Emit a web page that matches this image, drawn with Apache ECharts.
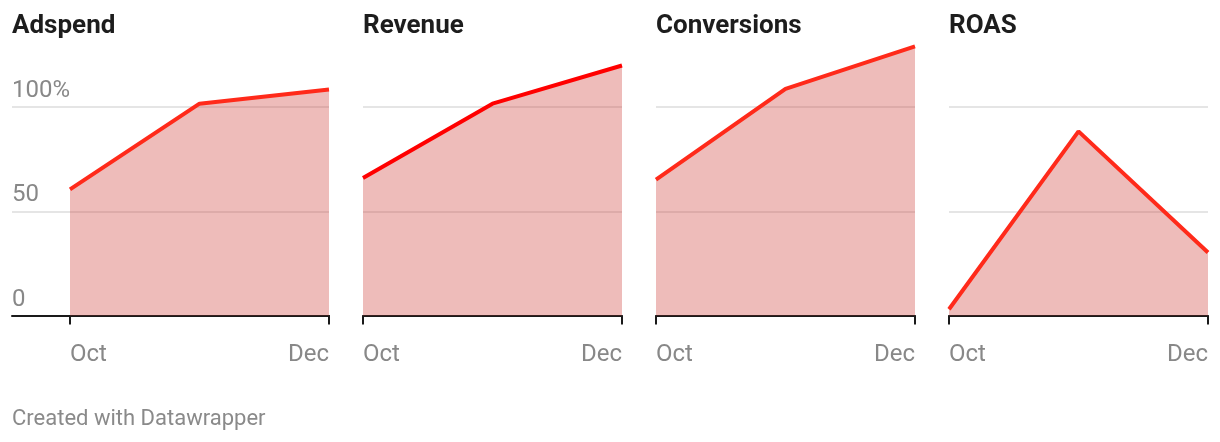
<!DOCTYPE html>
<html>
<head>
<meta charset="utf-8">
<script src="https://cdn.jsdelivr.net/npm/echarts@6/dist/echarts.min.js"></script>
<style>
html,body{margin:0;padding:0;background:#fff;}
#c{width:1220px;height:442px;}
</style>
</head>
<body>
<div id="c"></div>
<script>
const months = ['Oct', 'Nov', 'Dec'];
const titles = ['Adspend', 'Revenue', 'Conversions', 'ROAS'];
const adspend = [60.5, 101.6, 108.4];
const revenue = [65.9, 101.6, 119.9];
const conversions = [65.2, 108.7, 129.1];
const roas = [3.0, 88.3, 30.2];
const yTicks = [0, 50, 100];
const yTickLabels = ['0', '50', '100%'];
const footer = 'Created with Datawrapper';

const seriesData = [adspend, revenue, conversions, roas];
const lineColors = ['#ff2a1a', '#ff0000', '#ff2a1a', '#ff2a1a'];
const plotLefts = [70, 363, 656, 949];
const plotWidth = 259;
const TOP = 107, BOTTOM = 442 - 315.5;
const FONT = 'Roboto';

const grids = [], xAxes = [], yAxes = [], series = [], titleArr = [];

// background grid for panel 1 (spans label area)
grids.push({left: 12, width: 317, top: TOP, bottom: BOTTOM});
xAxes.push({type: 'value', gridIndex: 0, min: 0, max: 1, show: true,
  axisLine: {show: true, lineStyle: {color: '#1a1a1a', width: 2}},
  axisTick: {show: false}, axisLabel: {show: false}, splitLine: {show: false}});
yAxes.push({type: 'value', gridIndex: 0, min: 0, max: 100, interval: 50,
  axisLine: {show: false}, axisTick: {show: false},
  splitLine: {show: true, lineStyle: {color: '#e5e5e5', width: 2}},
  axisLabel: {inside: true, margin: 0, color: '#888888', fontFamily: FONT, fontSize: 24,
    verticalAlign: 'bottom', padding: [0, 0, 4, 0],
    formatter: v => { const i = yTicks.indexOf(v); return i >= 0 ? yTickLabels[i] : ''; }}});

for (let p = 0; p < 4; p++) {
  const gi = grids.length;
  grids.push({left: plotLefts[p], width: plotWidth, top: TOP, bottom: BOTTOM});
  xAxes.push({type: 'category', gridIndex: gi, data: months, boundaryGap: false,
    axisLine: {show: true, lineStyle: {color: '#1a1a1a', width: 2}},
    axisTick: {show: true, length: 9, lineStyle: {color: '#1a1a1a', width: 2}, interval: (i) => i !== 1},
    axisLabel: {color: '#888888', fontFamily: FONT, fontSize: 24, margin: 27,
      interval: (i) => i !== 1, alignMinLabel: 'left', alignMaxLabel: 'right'},
    splitLine: {show: false}});
  yAxes.push({type: 'value', gridIndex: gi, min: 0, max: 100, interval: 50,
    axisLine: {show: false}, axisTick: {show: false}, axisLabel: {show: false},
    splitLine: {show: p !== 0, lineStyle: {color: '#e5e5e5', width: 2}}});
  series.push({type: 'line', xAxisIndex: gi, yAxisIndex: gi, data: seriesData[p],
    clip: false, symbol: 'none', silent: true,
    lineStyle: {color: lineColors[p], width: 4},
    areaStyle: {color: '#cc3a36', opacity: 0.34},
    z: 3});
  titleArr.push({text: titles[p], left: p === 0 ? 12 : plotLefts[p], top: 13, padding: 0,
    textStyle: {fontFamily: FONT, fontSize: 26, fontWeight: 'bold', color: '#1d1d1d'}});
}
titleArr.push({text: footer, left: 12, top: 408, padding: 0,
  textStyle: {fontFamily: FONT, fontSize: 22, fontWeight: 'normal', color: '#8a8a8a'}});

const chart = echarts.init(document.getElementById('c'), null, {renderer: 'canvas'});
chart.setOption({
  animation: false,
  backgroundColor: '#ffffff',
  title: titleArr,
  grid: grids,
  xAxis: xAxes,
  yAxis: yAxes,
  series: series
});
</script>
</body>
</html>
